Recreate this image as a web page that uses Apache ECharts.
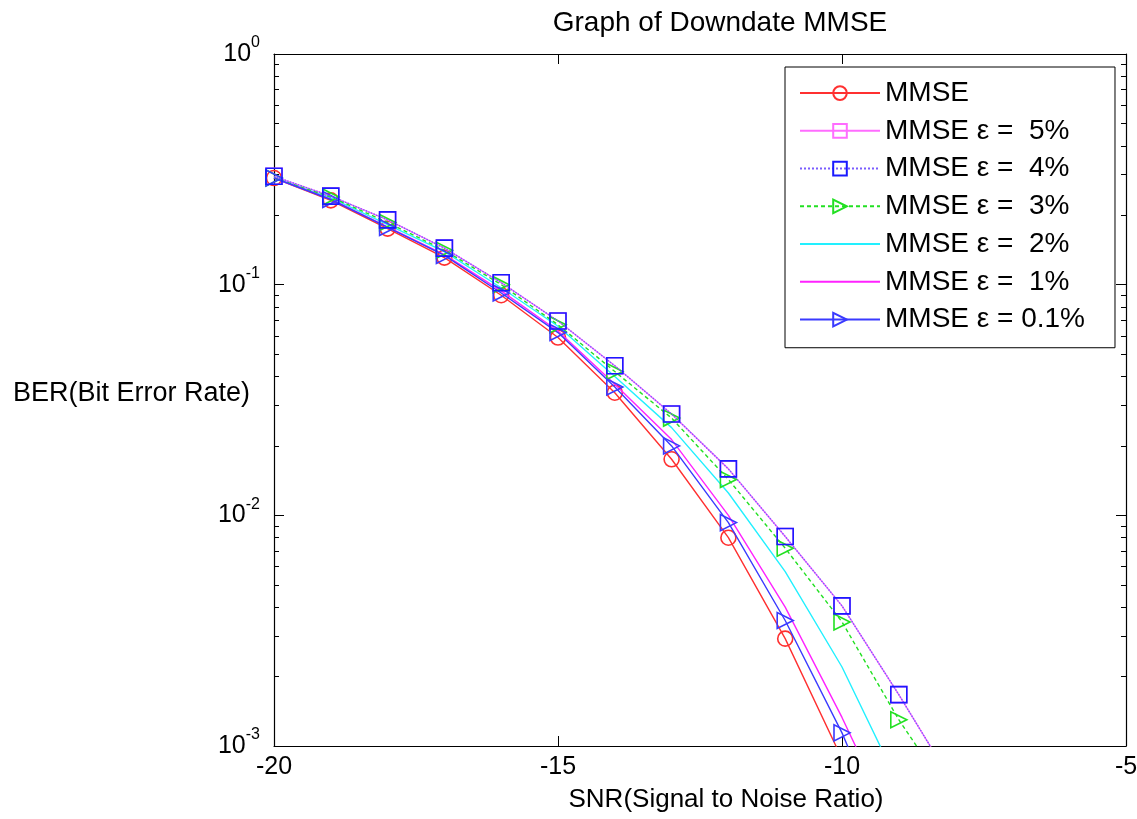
<!DOCTYPE html>
<html>
<head>
    <title>Graph of Downdate MMSE</title>
    <script src="https://cdn.jsdelivr.net/npm/echarts@6/dist/echarts.min.js"></script>
    <style>
        body { margin: 0; background: #fff; }
        #chart { width: 1137px; height: 819px; }
    </style>
</head>
<body>
    <div id="chart"></div>
    <script>
        // SNR points (dB)
        var snr = [-20, -19, -18, -17, -16, -15, -14, -13, -12, -11, -10, -9, -8];

        // BER
        var berMMSE = [0.29, 0.232, 0.175, 0.131, 0.090, 0.059, 0.034, 0.0175, 0.0080, 0.00292, 0.00088];
        var ber5 = [0.295, 0.242, 0.191, 0.144, 0.102, 0.0696, 0.0445, 0.0275, 0.0159, 0.0081, 0.00405, 0.00167, 0.00066];
        var ber4 = [0.295, 0.242, 0.191, 0.144, 0.102, 0.0696, 0.0445, 0.0275, 0.0159, 0.0081, 0.00405, 0.00167, 0.00066];
        var ber3 = [0.29, 0.240, 0.186, 0.141, 0.100, 0.067, 0.042, 0.0264, 0.0143, 0.0072, 0.00345, 0.0013, 0.00056];
        var ber2 = [0.29, 0.238, 0.182, 0.139, 0.097, 0.066, 0.040, 0.0240, 0.0125, 0.0057, 0.0022, 0.00068];
        var ber1 = [0.29, 0.235, 0.178, 0.135, 0.094, 0.063, 0.037, 0.0213, 0.0100, 0.0040, 0.00133, 0.0004];
        var ber01 = [0.29, 0.234, 0.177, 0.134, 0.092, 0.062, 0.036, 0.0200, 0.0093, 0.0035, 0.00114, 0.0003];

        var names = ['MMSE', 'MMSE \u03b5 =  5%', 'MMSE \u03b5 =  4%', 'MMSE \u03b5 =  3%',
                     'MMSE \u03b5 =  2%', 'MMSE \u03b5 =  1%', 'MMSE \u03b5 = 0.1%'];

        var yMajor = [0.001, 0.01, 0.1, 1];
        var yMinor = [];
        [0.001, 0.01, 0.1].forEach(function (d) {
            for (var k = 2; k <= 9; k++) yMinor.push(+(d * k).toPrecision(3));
        });

        function pairs(ys) {
            return ys.map(function (y, i) { return [snr[i], y]; });
        }

        var font = 'Liberation Sans, Arial, sans-serif';
        var chart = echarts.init(document.getElementById('chart'));

        function lineSeries(name, data, color, opts) {
            return {
                name: name,
                type: 'line',
                data: pairs(data),
                clip: true,
                symbol: opts.symbol || 'none',
                symbolSize: opts.size || 15,
                symbolRotate: opts.rotate || 0,
                showAllSymbol: true,
                lineStyle: { color: color, width: 1.4, type: opts.type || 'solid' },
                itemStyle: { color: 'rgba(255,255,255,0)', borderColor: opts.markColor || color, borderWidth: 1.6 },
                emphasis: { disabled: true },
                z: opts.z || 2
            };
        }

        // legend entries; the two unmarked lines get an invisible symbol
        var legendData = names.map(function (n, i) {
            if (i === 4 || i === 5) {
                return { name: n, itemStyle: { color: 'rgba(0,0,0,0)', borderWidth: 0, opacity: 0 } };
            }
            return { name: n };
        });

        var option = {
            animation: false,
            title: {
                text: 'Graph of Downdate MMSE',
                left: 715, top: -6, textAlign: 'center',
                textStyle: { fontFamily: font, fontSize: 28, fontWeight: 'normal', color: '#000' }
            },
            graphic: [{
                type: 'text',
                left: 13, top: 370,
                style: { text: 'BER(Bit Error Rate)', fontFamily: font, fontSize: 27, fill: '#000' }
            }, {
                type: 'text',
                x: 726, y: 800,
                style: {
                    text: 'SNR(Signal to Noise Ratio)', fontFamily: font, fontSize: 26, fill: '#000',
                    align: 'center', verticalAlign: 'middle'
                }
            }],
            grid: { left: 274, right: 11, top: 54, bottom: 73, outerBoundsMode: 'none' },
            legend: {
                orient: 'vertical',
                left: 785, top: 67,
                padding: [2, 30, 4, 14],
                itemGap: -10.5,
                itemWidth: 80,
                itemHeight: 17,
                borderColor: '#000',
                borderWidth: 1,
                backgroundColor: '#fff',
                selectedMode: false,
                textStyle: { fontFamily: font, fontSize: 28, lineHeight: 30, color: '#000' },
                data: legendData
            },
            xAxis: [{
                type: 'value', min: -20, max: -5, interval: 5,
                axisLine: { lineStyle: { color: '#000', width: 1.2 } },
                axisTick: { inside: true, length: 10, lineStyle: { color: '#000' } },
                axisLabel: { fontFamily: font, fontSize: 25, color: '#000', margin: 0 },
                splitLine: { show: false }
            }, {
                type: 'value', min: -20, max: -5, interval: 5, position: 'top',
                axisLine: { lineStyle: { color: '#000', width: 1.2 } },
                axisTick: { inside: true, length: 10, lineStyle: { color: '#000' } },
                axisLabel: { show: false },
                splitLine: { show: false }
            }],
            yAxis: [{
                type: 'log', logBase: 10, min: 0.001, max: 1,
                axisLine: { lineStyle: { color: '#000', width: 1.2 } },
                axisTick: { inside: true, length: 10, lineStyle: { color: '#000' }, customValues: yMajor },
                axisLabel: {
                    customValues: yMajor,
                    margin: 14,
                    formatter: function (v) {
                        return '{b|10}{s|' + Math.round(Math.log10(v)) + '}';
                    },
                    rich: {
                        b: { fontFamily: font, fontSize: 25, color: '#000' },
                        s: { fontFamily: font, fontSize: 16, color: '#000', padding: [0, 0, 22, 0] }
                    }
                },
                splitLine: { show: false }
            }, {
                type: 'log', logBase: 10, min: 0.001, max: 1, position: 'left',
                axisLine: { show: false },
                axisTick: { inside: true, length: 5, lineStyle: { color: '#000' }, customValues: yMinor },
                axisLabel: { show: false },
                splitLine: { show: false }
            }, {
                type: 'log', logBase: 10, min: 0.001, max: 1, position: 'right',
                axisLine: { lineStyle: { color: '#000', width: 1.2 } },
                axisTick: { inside: true, length: 10, lineStyle: { color: '#000' }, customValues: yMajor },
                axisLabel: { show: false },
                splitLine: { show: false }
            }, {
                type: 'log', logBase: 10, min: 0.001, max: 1, position: 'right', offset: 0,
                axisLine: { show: false },
                axisTick: { inside: true, length: 5, lineStyle: { color: '#000' }, customValues: yMinor },
                axisLabel: { show: false },
                splitLine: { show: false }
            }],
            series: [
                lineSeries(names[0], berMMSE, '#ff3030', { symbol: 'circle', size: 15, z: 2 }),
                lineSeries(names[1], ber5, '#ff6cff', { symbol: 'rect', size: 16, z: 3 }),
                lineSeries(names[2], ber4, '#7a5cff', { symbol: 'rect', size: 16, type: 'dotted', markColor: '#1a1aff', z: 6 }),
                lineSeries(names[3], ber3, '#22e022', { symbol: 'triangle', size: 16, rotate: -90, type: [4, 3], z: 5 }),
                lineSeries(names[4], ber2, '#22f0ff', { z: 4 }),
                lineSeries(names[5], ber1, '#ff22ff', { z: 4 }),
                lineSeries(names[6], ber01, '#3a3aff', { symbol: 'triangle', size: 16, rotate: -90, z: 5 })
            ]
        };

        chart.setOption(option);
    </script>
</body>
</html>
